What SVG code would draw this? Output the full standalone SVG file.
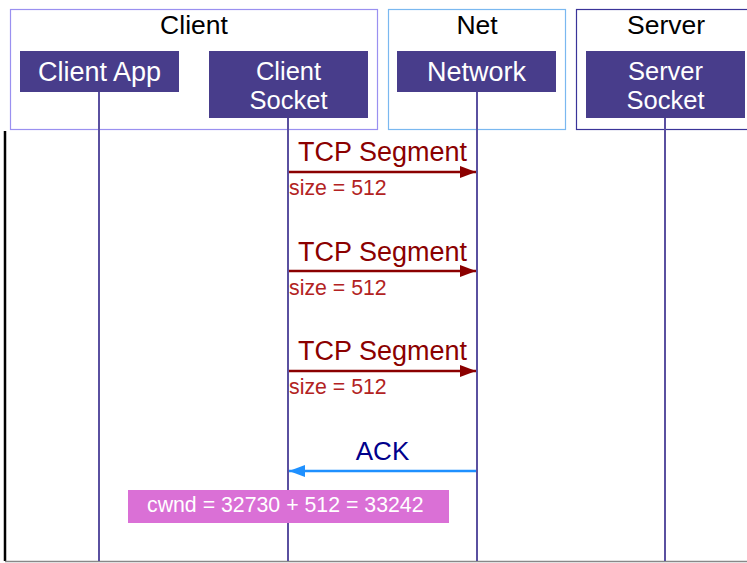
<svg xmlns="http://www.w3.org/2000/svg" width="747" height="563" viewBox="0 0 747 563">
<style>
text{font-family:"Liberation Sans",Arial,sans-serif}
.hdr{font-size:26.5px;fill:#000;text-anchor:middle}
.box{fill:#483d8b}
.lbl{font-size:27px;fill:#fff;text-anchor:middle}
.lbl2{font-size:25.5px;fill:#fff;text-anchor:middle}
.life{stroke:#5a50a0;stroke-width:2;fill:none}
.msg{font-size:27px;fill:#8b0000;text-anchor:middle}
.note{font-size:21.3px;fill:#b22222}
.seg{stroke:#8b0000;stroke-width:2.5;fill:none}
.ack{stroke:#1e90ff;stroke-width:2.5;fill:none}
</style>
<defs>
<marker id="ar" markerWidth="16" markerHeight="12" refX="16" refY="6" orient="auto" markerUnits="userSpaceOnUse"><path d="M0,0 L16,6 L0,12 z" fill="#8b0000"/></marker>
<marker id="ab" markerWidth="16" markerHeight="12" refX="16" refY="6" orient="auto" markerUnits="userSpaceOnUse"><path d="M0,0 L16,6 L0,12 z" fill="#1e90ff"/></marker>
</defs>
<rect width="747" height="563" fill="#fff"/>
<g id="frame">
<line x1="5" y1="131" x2="5" y2="561" stroke="#000" stroke-width="2.5"/>
<line x1="5" y1="561.5" x2="747" y2="561.5" stroke="#888" stroke-width="1.5"/>
</g>
<g id="group-client">
<rect x="10.5" y="9.5" width="367" height="120" fill="none" stroke="#9a90f0" stroke-width="1.2"/>
<text class="hdr" x="194" y="34">Client</text>
</g>
<g id="group-net">
<rect x="388.5" y="9.5" width="177" height="120" fill="none" stroke="#7ab8f0" stroke-width="1.2"/>
<text class="hdr" x="477" y="34">Net</text>
</g>
<g id="group-server">
<rect x="576.5" y="9.5" width="180" height="120" fill="none" stroke="#3a3499" stroke-width="1.2"/>
<text class="hdr" x="666" y="34">Server</text>
</g>
<g id="connectors">
<line class="life" x1="99" y1="92" x2="99" y2="561"/>
<line class="life" x1="288" y1="118" x2="288" y2="561"/>
<line class="life" x1="477" y1="92" x2="477" y2="561"/>
<line class="life" x1="665" y1="118" x2="665" y2="561"/>
<line class="seg" x1="289" y1="172" x2="476" y2="172" marker-end="url(#ar)"/>
<line class="seg" x1="289" y1="271" x2="476" y2="271" marker-end="url(#ar)"/>
<line class="seg" x1="289" y1="371" x2="476" y2="371" marker-end="url(#ar)"/>
<line class="ack" x1="476" y1="471" x2="289" y2="471" marker-end="url(#ab)"/>
<text class="msg" x="382.5" y="161">TCP Segment</text>
<text class="note" x="289" y="195">size = 512</text>
<text class="msg" x="382.5" y="261">TCP Segment</text>
<text class="note" x="289" y="295">size = 512</text>
<text class="msg" x="382.5" y="360">TCP Segment</text>
<text class="note" x="289" y="394">size = 512</text>
<text class="msg" x="382.5" y="460" style="font-size:26px;fill:#00008b">ACK</text>
</g>
<g id="client-app">
<rect class="box" x="20" y="51" width="159" height="41"/>
<text class="lbl" x="99.5" y="81">Client App</text>
</g>
<g id="client-socket">
<rect class="box" x="209" y="51" width="159" height="67"/>
<text class="lbl2" x="288.5" y="80">Client</text>
<text class="lbl2" x="288.5" y="108.7">Socket</text>
</g>
<g id="network">
<rect class="box" x="397" y="51" width="159" height="41"/>
<text class="lbl" x="476.5" y="81">Network</text>
</g>
<g id="server-socket">
<rect class="box" x="586" y="51" width="159" height="67"/>
<text class="lbl2" x="665.5" y="80">Server</text>
<text class="lbl2" x="665.5" y="108.7">Socket</text>
</g>
<g id="cwnd-note">
<rect x="128" y="490" width="321" height="33" fill="#da70d6"/>
<text x="147" y="512" style="font-size:21.3px;fill:#fff">cwnd = 32730 + 512 = 33242</text>
</g>
</svg>
